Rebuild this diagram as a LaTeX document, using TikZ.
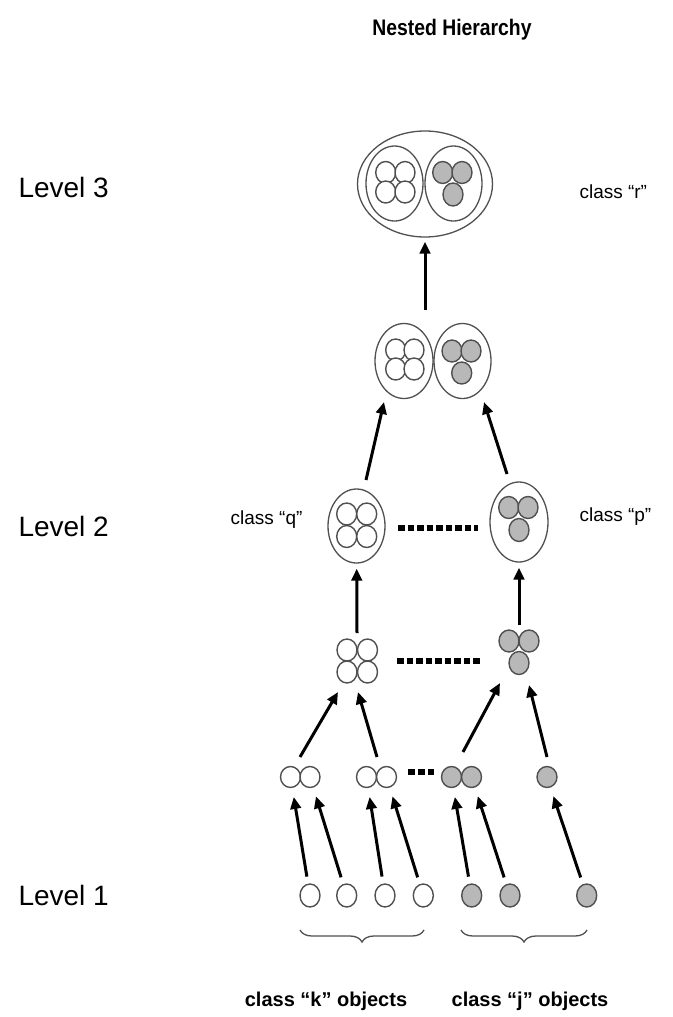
\documentclass[tikz,border=0pt]{standalone}
\usepackage{fontspec}
\setmainfont{Liberation Sans}
\newfontfamily\titlefont[FakeStretch=0.86]{Liberation Sans}
\usetikzlibrary{shapes.geometric,arrows.meta,decorations.pathreplacing}
\definecolor{cline}{HTML}{505050}
\definecolor{cfill}{HTML}{B8B8B8}
\begin{document}
\begin{tikzpicture}[x=1pt,y=-1pt,
  wc/.style={ellipse, draw=cline, line width=1.4pt, minimum width=20pt, minimum height=22pt, inner sep=0pt, fill=white},
  gc/.style={wc, fill=cfill},
  env/.style={ellipse, draw=cline, line width=1.3pt, inner sep=0pt},
  arr/.style={line width=3pt, -{Triangle[length=12pt,width=10.5pt]}},
  dotline/.style={line width=6.5pt, dash pattern=on 6.5pt off 3pt},
  lvl/.style={anchor=west, font=\fontsize{28}{32}\selectfont},
  cls/.style={font=\fontsize{19}{22}\selectfont},
  obj/.style={font=\bfseries\fontsize{20}{24}\selectfont},
  brc/.style={decorate, decoration={brace, mirror, amplitude=12pt}, line width=1.3pt, draw=cline}]
\useasboundingbox (0,0) rectangle (672,1017);

% title and labels
\node[font=\titlefont\bfseries\fontsize{22.5}{26}\selectfont] (title) at (452,30) {Nested Hierarchy};
\node[lvl] (lv3) at (15,187) {Level 3};
\node[lvl] (lv2) at (15,526) {Level 2};
\node[lvl] (lv1) at (15,895) {Level 1};
\node[cls, anchor=west] (clr) at (576,192) {class “r”};
\node[cls, anchor=east] (clq) at (306,520) {class “q”};
\node[cls, anchor=west] (clp) at (576,517) {class “p”};
\node[obj] (clk) at (326,1001) {class “k” objects};
\node[obj] (clj) at (530,1001) {class “j” objects};

% Level 3
\node[env, minimum width=135pt, minimum height=106pt] (L3) at (425,184) {};
\node[env, minimum width=57pt, minimum height=75pt] (L3a) at (394.5,183.5) {};
\node[env, minimum width=57pt, minimum height=75pt] (L3b) at (453.5,183.5) {};
\node[wc] (L3a1) at (385.7,172.5) {};
\node[wc] (L3a2) at (405,172.5) {};
\node[wc] (L3a3) at (385.7,192) {};
\node[wc] (L3a4) at (405,192) {};
\node[gc] (L3b1) at (442.7,172.5) {};
\node[gc] (L3b2) at (462,172.5) {};
\node[gc, minimum height=23pt] (L3b3) at (453,194.5) {};

% Row B
\node[env, minimum width=58pt, minimum height=75pt] (Ba) at (404,361) {};
\node[env, minimum width=57pt, minimum height=75pt] (Bb) at (462.5,361) {};
\node[wc] (Ba1) at (395.7,350) {};
\node[wc] (Ba2) at (414,350) {};
\node[wc] (Ba3) at (395.7,369) {};
\node[wc] (Ba4) at (414,369) {};
\node[gc] (Bb1) at (452,351) {};
\node[gc] (Bb2) at (471,351) {};
\node[gc] (Bb3) at (461.7,373) {};

% Level 2
\node[env, minimum width=57pt, minimum height=74pt] (Qa) at (356.5,526) {};
\node[env, minimum width=58pt, minimum height=80pt] (Pb) at (519,522) {};
\node[wc] (Qa1) at (346.7,514) {};
\node[wc] (Qa2) at (366.7,514) {};
\node[wc] (Qa3) at (346.7,536.5) {};
\node[wc] (Qa4) at (366.7,536.5) {};
\node[gc] (Pb1) at (508.7,507.5) {};
\node[gc] (Pb2) at (528,507.5) {};
\node[gc, minimum height=23pt] (Pb3) at (519,530) {};
\coordinate (d2s) at (398,528);
\coordinate (d2e) at (478,528);
\draw[dotline] (d2s) -- (d2e);

% Row C
\node[wc] (C1) at (347,650) {};
\node[wc] (C2) at (367.5,650) {};
\node[wc] (C3) at (347,672) {};
\node[wc] (C4) at (367.5,672) {};
\node[gc] (C5) at (509,641) {};
\node[gc] (C6) at (529,641) {};
\node[gc, minimum height=23pt] (C7) at (519,663) {};
\coordinate (dCs) at (397,661);
\coordinate (dCe) at (480,661);
\draw[dotline] (dCs) -- (dCe);

% Row D
\node[wc, minimum height=21pt] (D1) at (290.5,777) {};
\node[wc, minimum height=21pt] (D2) at (310,777) {};
\node[wc, minimum height=21pt] (D3) at (366.5,777) {};
\node[wc, minimum height=21pt] (D4) at (386.5,777) {};
\node[gc, minimum height=21pt] (D5) at (451.5,777) {};
\node[gc, minimum height=21pt] (D6) at (471.5,777) {};
\node[gc, minimum height=21pt] (D7) at (547,777) {};
\coordinate (dDs) at (408,772);
\coordinate (dDe) at (434,772);
\draw[dotline, dash pattern=on 6.5pt off 3.5pt] (dDs) -- (dDe);

% Level 1
\node[wc, minimum height=23pt] (E1) at (310,895.5) {};
\node[wc, minimum height=23pt] (E2) at (346.7,895.5) {};
\node[wc, minimum height=23pt] (E3) at (385,895.5) {};
\node[wc, minimum height=23pt] (E4) at (423.3,895.5) {};
\node[gc, minimum height=23pt] (E5) at (471.7,895.5) {};
\node[gc, minimum height=23pt] (E6) at (510,895.5) {};
\node[gc, minimum height=23pt] (E7) at (586.7,895.5) {};

% braces
\coordinate (bk1) at (300,930);
\coordinate (bk2) at (424,930);
\coordinate (bj1) at (461,930);
\coordinate (bj2) at (587,930);
\draw[brc] (bk1) -- (bk2);
\draw[brc] (bj1) -- (bj2);

% arrows level 1 -> row D
\draw[arr, shorten <=7pt, shorten >=9pt] (E1) -- (D1);
\draw[arr, shorten <=7pt, shorten >=9pt] (E2) -- (D2);
\draw[arr, shorten <=7pt, shorten >=9pt] (E3) -- (D3);
\draw[arr, shorten <=7pt, shorten >=9pt] (E4) -- (D4);
\draw[arr, shorten <=7pt, shorten >=9pt] (E5) -- (D5);
\draw[arr, shorten <=7pt, shorten >=9pt] (E6) -- (D6);
\draw[arr, shorten <=7pt, shorten >=9pt] (E7) -- (D7);

% arrows row D -> row C
\coordinate (t1) at (300,757); \coordinate (h1) at (338,692);
\coordinate (t2) at (377,757); \coordinate (h2) at (358,692);
\coordinate (t3) at (463,752); \coordinate (h3) at (500,683);
\coordinate (t4) at (547,757); \coordinate (h4) at (529,685);
\draw[arr] (t1) -- (h1);
\draw[arr] (t2) -- (h2);
\draw[arr] (t3) -- (h3);
\draw[arr] (t4) -- (h4);

% arrows row C -> level 2
\coordinate (t5) at (357,633); \coordinate (t6) at (519,625);
\draw[arr, shorten >=5pt] (t5) -- (Qa);
\draw[arr, shorten >=5pt] (t6) -- (Pb);

% arrows level 2 -> row B
\coordinate (t7) at (366,480); \coordinate (h7) at (384,402);
\coordinate (t8) at (507,474); \coordinate (h8) at (484,402);
\draw[arr] (t7) -- (h7);
\draw[arr] (t8) -- (h8);

% arrow row B -> level 3
\coordinate (t9) at (425,310);
\draw[arr, shorten >=4pt] (t9) -- (L3);
\end{tikzpicture}
\end{document}
